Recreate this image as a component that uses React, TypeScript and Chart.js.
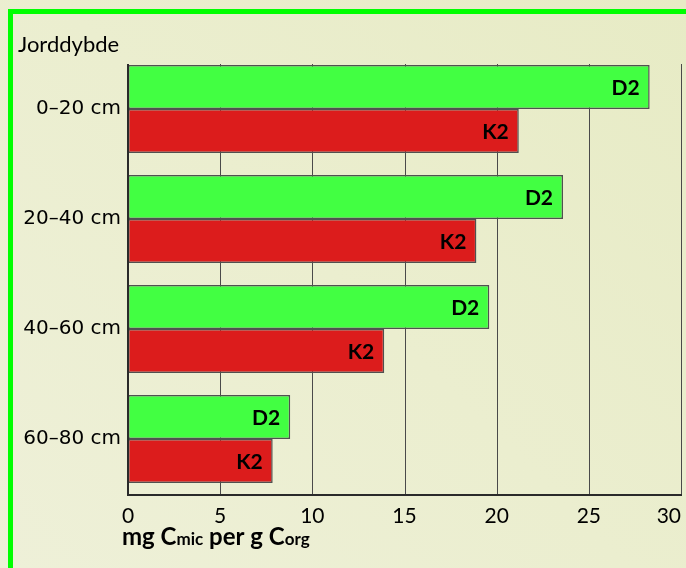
import React, { useEffect, useRef } from 'react';
import { Chart, registerables } from 'chart.js';

Chart.register(...registerables);

// ---- data ----
const categories = ['0–20 cm', '20–40 cm', '40–60 cm', '60–80 cm'];
const seriesNames = ['D2', 'K2'];
const d2Values = [28.3, 23.6, 19.6, 8.8];
const k2Values = [21.2, 18.9, 13.9, 7.85];
const xTickValues = [0, 5, 10, 15, 20, 25, 30];
const yAxisTitle = 'Jorddybde';
const xAxisTitleParts: [string, boolean][] = [
  ['mg C', false],
  ['mic', true],
  [' per g C', false],
  ['org', true],
];

const GREEN = '#42ff42';
const RED = '#dc1c1c';

const decorPlugin = {
  id: 'decor',
  beforeDatasetsDraw(chart: any) {
    const { ctx, chartArea, scales } = chart;
    const x = scales.x;
    const top = chartArea.top + 10;
    ctx.save();
    ctx.strokeStyle = '#4a4a4a';
    ctx.lineWidth = 1;
    xTickValues.forEach((v) => {
      if (v === xTickValues[0]) return;
      const px = Math.round(x.getPixelForValue(v)) + 0.5;
      ctx.beginPath();
      ctx.moveTo(px, top);
      ctx.lineTo(px, chartArea.bottom);
      ctx.stroke();
    });
    ctx.restore();
  },
  afterDatasetsDraw(chart: any) {
    const { ctx, chartArea, scales } = chart;
    const x = scales.x;
    const top = chartArea.top + 10;
    ctx.save();
    // bar labels
    ctx.fillStyle = '#000';
    ctx.font = 'bold 21px Lato';
    ctx.textAlign = 'right';
    ctx.textBaseline = 'alphabetic';
    chart.data.datasets.forEach((ds: any, di: number) => {
      const meta = chart.getDatasetMeta(di);
      meta.data.forEach((el: any) => {
        ctx.fillText(ds.label, el.x - 10, el.y + 7.5);
      });
    });
    // axes
    ctx.strokeStyle = '#2a2a2a';
    ctx.lineWidth = 2;
    const x0 = Math.round(x.getPixelForValue(xTickValues[0]));
    ctx.beginPath();
    ctx.moveTo(x0, top);
    ctx.lineTo(x0, chartArea.bottom + 1);
    ctx.lineTo(chartArea.right + 1, chartArea.bottom + 1);
    ctx.stroke();
    // x tick labels
    ctx.font = '21px Lato';
    ctx.fillStyle = '#000';
    xTickValues.forEach((v, i) => {
      const px = x.getPixelForValue(v);
      const last = i === xTickValues.length - 1;
      ctx.textAlign = last ? 'right' : 'center';
      ctx.fillText(String(v), px, chartArea.bottom + 29);
    });
    // x axis title
    let cx = chartArea.left - 6;
    const by = chartArea.bottom + 51;
    ctx.textAlign = 'left';
    xAxisTitleParts.forEach(([t, small]) => {
      ctx.font = small ? 'bold 17px Lato' : 'bold 24px Lato';
      ctx.fillText(t, cx, by);
      cx += ctx.measureText(t).width;
    });
    // y axis title
    ctx.font = '22px Lato';
    ctx.fillText(yAxisTitle, 18, 52);
    ctx.restore();
  },
};

export default function App() {
  const ref = useRef<HTMLCanvasElement | null>(null);

  useEffect(() => {
    if (!ref.current) return;
    const chart = new Chart(ref.current, {
      type: 'bar',
      data: {
        labels: categories,
        datasets: [
          {
            label: seriesNames[0],
            data: d2Values,
            backgroundColor: GREEN,
            borderColor: '#505050',
            borderWidth: 1.5,
            borderSkipped: false,
          },
          {
            label: seriesNames[1],
            data: k2Values,
            backgroundColor: RED,
            borderColor: '#505050',
            borderWidth: 1.5,
            borderSkipped: false,
          },
        ],
      },
      options: {
        indexAxis: 'y',
        animation: false,
        responsive: true,
        maintainAspectRatio: false,
        layout: { padding: { top: 54, right: 5, bottom: 0, left: 0 }, autoPadding: false },
        datasets: { bar: { categoryPercentage: 0.8, barPercentage: 1.0 } },
        plugins: {
          legend: { display: false },
          tooltip: { enabled: false },
          title: { display: false },
        },
        scales: {
          x: {
            type: 'linear',
            min: 0,
            max: 30,
            grid: { display: false, drawTicks: false },
            border: { display: false },
            ticks: { display: false, stepSize: 5 },
            afterFit: (s: any) => {
              s.height = 74;
            },
          },
          y: {
            grid: { display: false, drawTicks: false },
            border: { display: false },
            ticks: {
              color: '#000',
              padding: 7,
              font: { family: 'DejaVu Sans', size: 20 },
            },
            afterFit: (s: any) => {
              s.width = 128;
            },
          },
        },
      },
      plugins: [decorPlugin],
    });
    return () => chart.destroy();
  }, []);

  return (
    <div
      style={{
        position: 'fixed',
        left: 0,
        top: 0,
        width: 686,
        height: 568,
        overflow: 'hidden',
        background: 'linear-gradient(45deg, #eef0d8 0%, #ebeecf 50%, #e7ebc5 100%)',
      }}
    >
      <div
        style={{
          position: 'absolute',
          left: 8,
          top: 9,
          width: 720,
          height: 620,
          border: '5px solid #00ff00',
          boxSizing: 'border-box',
        }}
      />
      <div style={{ position: 'absolute', left: 0, top: 0, width: 686, height: 568 }}>
        <canvas ref={ref} />
      </div>
    </div>
  );
}
